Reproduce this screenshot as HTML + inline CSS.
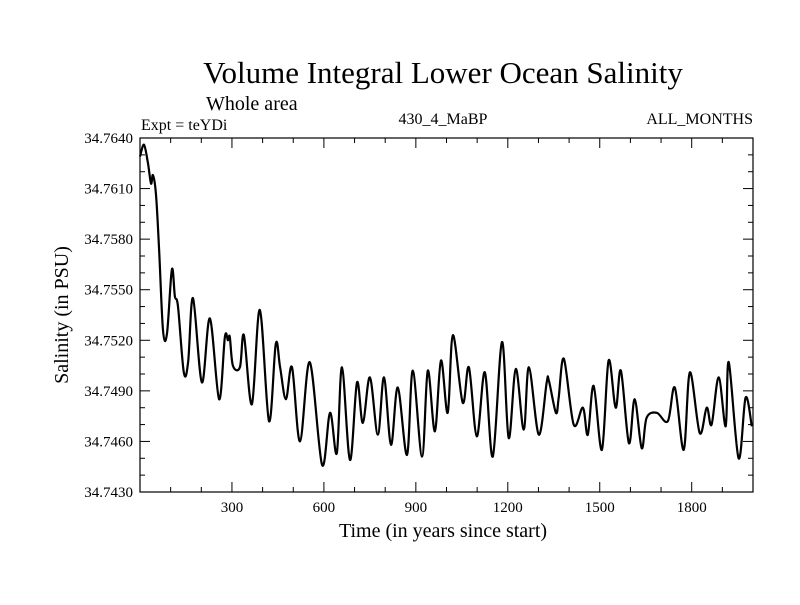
<!DOCTYPE html>
<html><head><meta charset="utf-8"><style>
body{margin:0;background:#fff}
svg text{font-family:"Liberation Serif",serif;fill:#000}
</style></head><body>
<svg id="chart" width="800" height="600">
<text x="443" y="83" font-size="31" text-anchor="middle">Volume Integral Lower Ocean Salinity</text>
<text x="206" y="110" font-size="20">Whole area</text>
<text x="141" y="130" font-size="16">Expt = teYDi</text>
<text x="443" y="124" font-size="16" text-anchor="middle">430_4_MaBP</text>
<text x="753" y="124" font-size="16" text-anchor="end">ALL_MONTHS</text>
<text x="443" y="537" font-size="20" text-anchor="middle">Time (in years since start)</text>
<text transform="translate(68,315) rotate(-90)" font-size="20" text-anchor="middle">Salinity (in PSU)</text>
<g id="ticks"></g>
<rect x="140" y="138" width="613" height="354" fill="none" stroke="#000" stroke-width="1.2"/>
<path id="line" fill="none" stroke="#000" stroke-width="2.2" stroke-linejoin="round"/>
</svg>
<script>
const years=[0,13,26,36,42,52,62,75,88,104,114,124,143,157,173,202,228,258,277,287,293,303,326,339,365,391,421,443,457,476,496,522,554,594,620,642,659,685,708,727,750,776,796,819,841,871,890,920,939,962,982,1004,1021,1053,1073,1099,1125,1151,1181,1203,1226,1252,1269,1301,1327,1334,1357,1366,1383,1415,1445,1461,1480,1507,1529,1552,1569,1595,1614,1637,1653,1686,1722,1745,1774,1794,1826,1849,1865,1888,1911,1921,1953,1976,1996];
const salinity=[34.7629,34.7636,34.7625,34.7613,34.7618,34.7607,34.7575,34.7526,34.7524,34.7562,34.7546,34.7540,34.7501,34.7507,34.7545,34.7495,34.7533,34.7485,34.7522,34.7520,34.7522,34.7505,34.7504,34.7523,34.7482,34.7538,34.7472,34.7518,34.7504,34.7485,34.7504,34.7460,34.7507,34.7446,34.7477,34.7453,34.7504,34.7449,34.7495,34.7471,34.7498,34.7464,34.7498,34.7458,34.7492,34.7452,34.7502,34.7451,34.7502,34.7466,34.7508,34.7477,34.7523,34.7483,34.7504,34.7463,34.7501,34.7451,34.7519,34.7462,34.7503,34.7467,34.7504,34.7464,34.7495,34.7496,34.7477,34.7486,34.7509,34.7470,34.7480,34.7464,34.7493,34.7455,34.7508,34.7480,34.7502,34.7459,34.7485,34.7456,34.7474,34.7477,34.7472,34.7492,34.7455,34.7501,34.7465,34.7480,34.7470,34.7498,34.7469,34.7507,34.7450,34.7486,34.7469];
const xTicks=[300,600,900,1200,1500,1800];
const yTicks=["34.7430","34.7460","34.7490","34.7520","34.7550","34.7580","34.7610","34.7640"];
const X0=140,X1=753,Y0=492,Y1=138,xmin=0,xmax=2000,ymin=34.7430,ymax=34.7640;
const sx=v=>X0+(v-xmin)/(xmax-xmin)*(X1-X0);
const sy=v=>Y0-(v-ymin)/(ymax-ymin)*(Y0-Y1);
const NS="http://www.w3.org/2000/svg",g=document.getElementById('ticks');
function ln(x1,y1,x2,y2){const l=document.createElementNS(NS,'line');l.setAttribute('x1',x1);l.setAttribute('y1',y1);l.setAttribute('x2',x2);l.setAttribute('y2',y2);l.setAttribute('stroke','#000');l.setAttribute('stroke-width','1');


g.appendChild(l);}
function tx(x,y,s,anchor){const t=document.createElementNS(NS,'text');t.setAttribute('x',x);t.setAttribute('y',y);t.setAttribute('font-size','15');t.setAttribute('text-anchor',anchor);t.textContent=s;


g.appendChild(t);}
for(let v=100;v<2000;v+=100){const x=sx(v),L=(v%300===0)?10:5;ln(x,Y0,x,Y0-L);ln(x,Y1,x,Y1+L);}
xTicks.forEach(v=>tx(sx(v),512,String(v),'middle'));
for(let i=0;i<=21;i++){const v=ymin+i*0.001,y=sy(v),L=(i%3===0)?10:5;ln(X0,y,X0+L,y);ln(X1,y,X1-L,y);}
yTicks.forEach(s=>tx(133,sy(parseFloat(s))+5,s,'end'));
const P=years.map((v,i)=>[sx(v),sy(salinity[i])]);
let d='M'+P[0][0].toFixed(1)+' '+P[0][1].toFixed(1);
for(let i=0;i<P.length-1;i++){const p0=P[Math.max(i-1,0)],p1=P[i],p2=P[i+1],p3=P[Math.min(i+2,P.length-1)];
const c1=[p1[0]+(p2[0]-p0[0])/6,p1[1]+(p2[1]-p0[1])/6],c2=[p2[0]-(p3[0]-p1[0])/6,p2[1]-(p3[1]-p1[1])/6];
d+=' C'+c1[0].toFixed(1)+' '+c1[1].toFixed(1)+' '+c2[0].toFixed(1)+' '+c2[1].toFixed(1)+' '+p2[0].toFixed(1)+' '+p2[1].toFixed(1);}
document.getElementById('line').setAttribute('d',d);
</script>
</body></html>
